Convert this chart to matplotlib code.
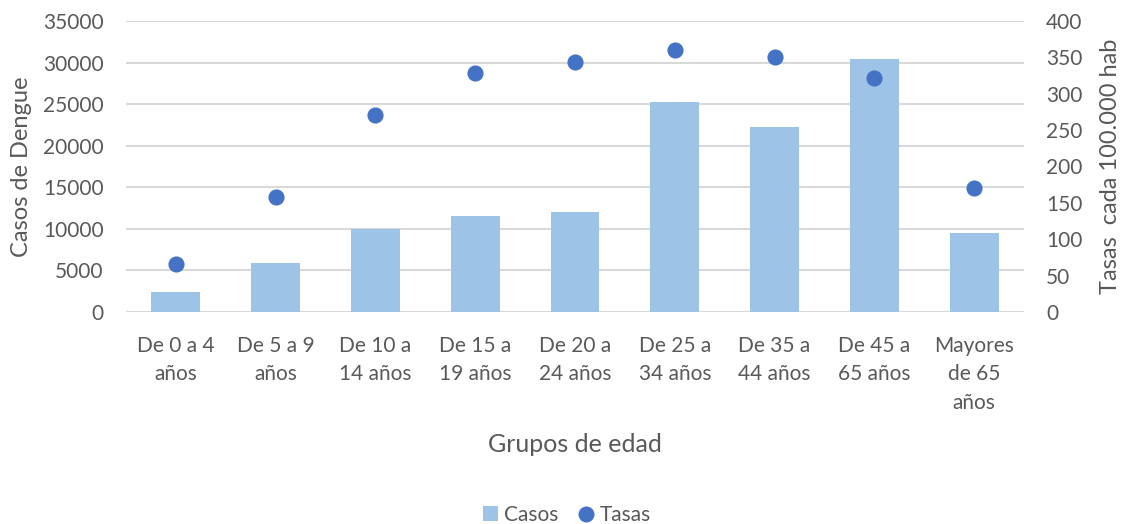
import matplotlib
matplotlib.use("Agg")
import matplotlib.pyplot as plt
from matplotlib.patches import Patch
from matplotlib.lines import Line2D

plt.rcParams['font.family'] = ['Lato', 'DejaVu Sans']

categorias = ["De 0 a 4\naños", "De 5 a 9\naños", "De 10 a\n14 años", "De 15 a\n19 años",
              "De 20 a\n24 años", "De 25 a\n34 años", "De 35 a\n44 años", "De 45 a\n65 años",
              "Mayores\nde 65\naños"]
casos = [2400, 5860, 10000, 11500, 12000, 25300, 22200, 30400, 9500]
tasas = [66, 158, 271, 328, 344, 360, 350, 321, 170]
ticks_casos = [0, 5000, 10000, 15000, 20000, 25000, 30000, 35000]
ticks_tasas = [0, 50, 100, 150, 200, 250, 300, 350, 400]

TXT = "#595959"
BAR = "#9DC3E6"
DOT = "#4472C4"
GRID = "#D9D9D9"

fig = plt.figure(figsize=(11.32, 5.24), dpi=100)
ax = fig.add_axes([126/1132, 1-312/524, 898/1132, 291/524])
ax2 = ax.twinx()

x = list(range(len(categorias)))
ax.bar(x, casos, width=0.49, color=BAR, zorder=2)
ax2.scatter(x, tasas, s=135, color=DOT, zorder=3, linewidths=0)

ax.set_xlim(-0.5, len(categorias) - 0.5)
ax.set_ylim(0, 35000)
ax2.set_ylim(0, 400)
ax.set_yticks(ticks_casos)
ax2.set_yticks(ticks_tasas)
ax.set_xticks(x)
ax.set_xticklabels(categorias, linespacing=1.55)

ax.yaxis.grid(True, color=GRID, linewidth=1.5, zorder=0)
ax.set_axisbelow(True)
for a in (ax, ax2):
    for s in a.spines.values():
        s.set_visible(False)
    a.tick_params(length=0, labelcolor=TXT, labelsize=15)
ax.tick_params(axis='y', pad=16)
ax2.tick_params(axis='y', pad=16)
ax.tick_params(axis='x', pad=17)

ax.set_ylabel("Casos de Dengue", color=TXT, fontsize=17)
ax.yaxis.set_label_coords(-0.105, 0.5)
ax2.set_ylabel("Tasas  cada 100.000 hab", color=TXT, fontsize=17)
ax2.yaxis.set_label_coords(1.085, 0.5)
ax.set_xlabel("Grupos de edad", color=TXT, fontsize=18)
ax.xaxis.set_label_coords(0.5, -0.415)

handles = [Patch(facecolor=BAR, edgecolor='none'),
           Line2D([], [], marker='o', linestyle='none', markersize=11.5,
                  markerfacecolor=DOT, markeredgewidth=0)]
fig.legend(handles, ["Casos", "Tasas"], loc='center', ncol=2, frameon=False,
           bbox_to_anchor=(567/1132, 1-515/524), fontsize=15, labelcolor=TXT,
           handlelength=0.7, handletextpad=0.3, columnspacing=1.0, handleheight=0.7)

fig.savefig("out.png", dpi=100, facecolor="white")
